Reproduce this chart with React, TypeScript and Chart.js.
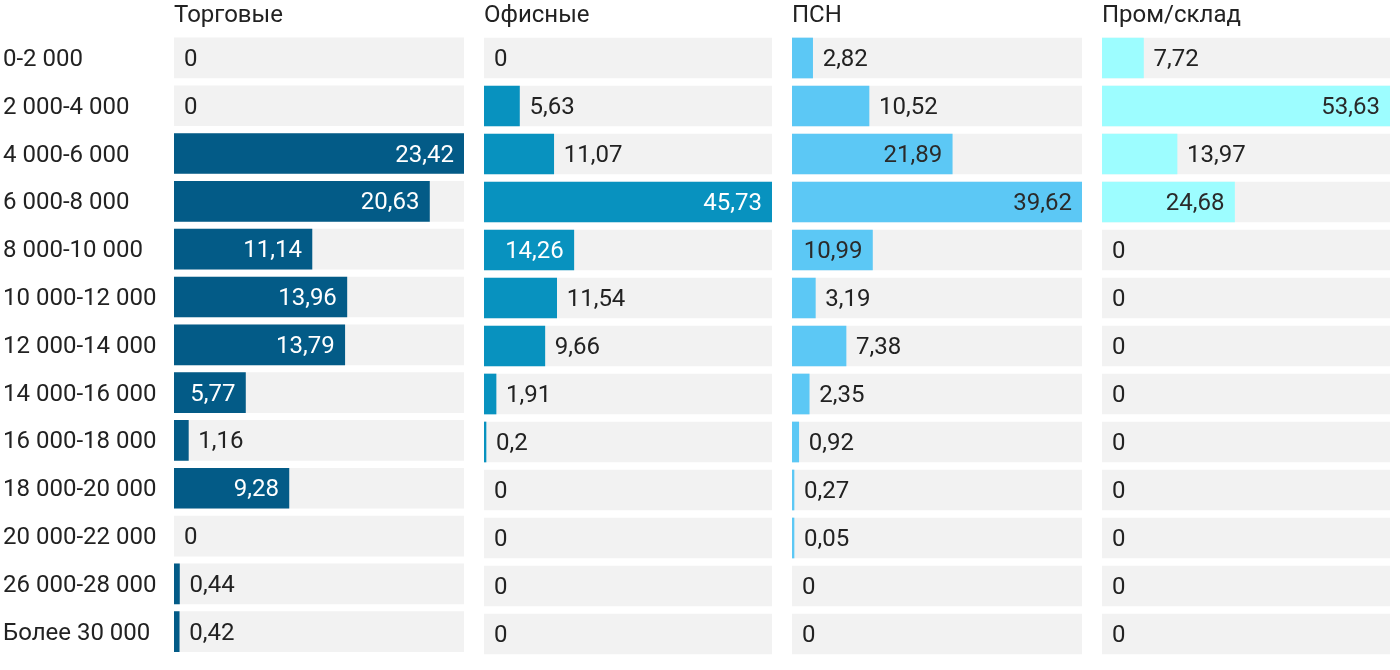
import { useEffect, useRef } from "react";
import { Chart, registerables } from "chart.js";

Chart.register(...registerables);

const categories = [
  "0-2 000",
  "2 000-4 000",
  "4 000-6 000",
  "6 000-8 000",
  "8 000-10 000",
  "10 000-12 000",
  "12 000-14 000",
  "14 000-16 000",
  "16 000-18 000",
  "18 000-20 000",
  "20 000-22 000",
  "26 000-28 000",
  "Более 30 000",
];

const panelTitles = ["Торговые", "Офисные", "ПСН", "Пром/склад"];

const tradeValues = [0, 0, 23.42, 20.63, 11.14, 13.96, 13.79, 5.77, 1.16, 9.28, 0, 0.44, 0.42];
const officeValues = [0, 5.63, 11.07, 45.73, 14.26, 11.54, 9.66, 1.91, 0.2, 0, 0, 0, 0];
const psnValues = [2.82, 10.52, 21.89, 39.62, 10.99, 3.19, 7.38, 2.35, 0.92, 0.27, 0.05, 0, 0];
const industrialValues = [7.72, 53.63, 13.97, 24.68, 0, 0, 0, 0, 0, 0, 0, 0, 0];

const barColors = ["#035b87", "#0892bf", "#5cc8f5", "#9dfdff"];
const insideTextColors = ["#ffffff", "#ffffff", "#2a2a2a", "#2a2a2a"];
const trackColor = "#f2f2f2";
const textColor = "#222222";
const FONT = "Roboto, 'Noto Sans', sans-serif";
const FONT_SIZE = 24;

type PanelProps = {
  index: number;
  values: number[];
  left: number;
  width: number;
  withAxis: boolean;
};

function Panel({ index, values, left, width, withAxis }: PanelProps) {
  const ref = useRef<HTMLCanvasElement>(null);

  useEffect(() => {
    const canvas = ref.current;
    if (!canvas) return;
    const max = Math.max(...values);

    const panelPlugin = {
      id: "panelDecor" + index,
      afterDatasetsDraw(chart: any) {
        const ctx = chart.ctx as CanvasRenderingContext2D;
        const xs = chart.scales.x;
        const ys = chart.scales.y;
        ctx.save();
        ctx.font = `${FONT_SIZE}px ${FONT}`;
        ctx.textBaseline = "middle";
        const base = xs.getPixelForValue(0);
        values.forEach((v, i) => {
          const y = ys.getPixelForValue(i);
          let end = xs.getPixelForValue(v);
          if (v > 0) end = Math.max(end, base + 2);
          const text = String(v).replace(".", ",");
          const tw = ctx.measureText(text).width;
          if (v > 0 && end - base >= tw + 19) {
            ctx.textAlign = "right";
            ctx.fillStyle = insideTextColors[index];
            ctx.fillText(text, end - 10, y + 2);
          } else {
            ctx.textAlign = "left";
            ctx.fillStyle = textColor;
            ctx.fillText(text, end + 10, y + 2);
          }
        });
        ctx.restore();
      },
      afterDraw(chart: any) {
        const ctx = chart.ctx as CanvasRenderingContext2D;
        ctx.save();
        ctx.font = `${FONT_SIZE}px ${FONT}`;
        ctx.textBaseline = "middle";
        ctx.textAlign = "left";
        ctx.fillStyle = textColor;
        ctx.fillText(panelTitles[index], chart.chartArea.left, 15.5);
        ctx.restore();
      },
    };

    const yScale: any = {
      display: withAxis,
      grid: { display: false },
      border: { display: false },
      ticks: {
        crossAlign: "far",
        padding: 0,
        labelOffset: 2,
        color: textColor,
        font: { family: FONT, size: FONT_SIZE },
      },
    };
    if (withAxis) {
      yScale.afterFit = (s: any) => {
        s.width = 171;
      };
    }

    const chart = new Chart(canvas, {
      type: "bar",
      data: {
        labels: categories,
        datasets: [
          {
            data: values.map((v) => (v === 0 ? null : v)),
            backgroundColor: barColors[index],
            grouped: false,
            barThickness: 40,
            minBarLength: 2,
            order: 0,
          } as any,
          {
            data: categories.map(() => max),
            backgroundColor: trackColor,
            grouped: false,
            barThickness: 40,
            order: 1,
          } as any,
        ],
      },
      options: {
        indexAxis: "y",
        responsive: false,
        animation: false,
        events: [],
        layout: { padding: { left: withAxis ? 3 : 0, top: 34, bottom: 12, right: 0 } },
        plugins: {
          legend: { display: false },
          tooltip: { enabled: false },
          title: { display: false },
        },
        scales: {
          x: { display: false, min: 0, max },
          y: yScale,
        },
      } as any,
      plugins: [panelPlugin],
    });

    return () => chart.destroy();
  }, [index, values, withAxis]);

  return (
    <canvas
      ref={ref}
      width={width}
      height={670}
      style={{ position: "absolute", left, top: 0, width, height: 670 }}
    />
  );
}

export default function App() {
  return (
    <div
      style={{
        position: "absolute",
        left: 0,
        top: 0,
        width: 1400,
        height: 670,
        background: "#ffffff",
      }}
    >
      <Panel index={0} values={tradeValues} left={0} width={464} withAxis={true} />
      <Panel index={1} values={officeValues} left={484} width={288} withAxis={false} />
      <Panel index={2} values={psnValues} left={792} width={290} withAxis={false} />
      <Panel index={3} values={industrialValues} left={1102} width={288} withAxis={false} />
    </div>
  );
}
